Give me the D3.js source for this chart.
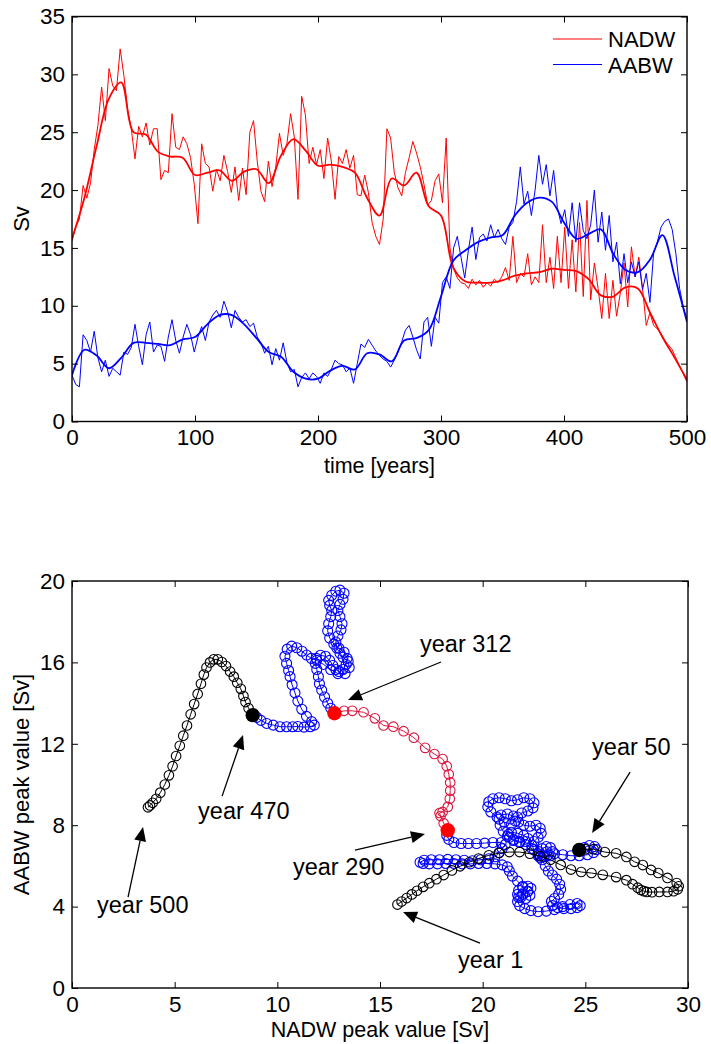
<!DOCTYPE html>
<html>
<head>
<meta charset="utf-8">
<script src="https://cdn.jsdelivr.net/npm/d3@7"></script>
<style>
  html, body { margin: 0; padding: 0; background: #fff; }
  svg { display: block; font-family: "Liberation Sans", Arial, Helvetica, sans-serif; }
</style>
</head>
<body>
<svg id="chart" width="711" height="1044"></svg>
<script>
// ---- top panel: yearly overturning (raw every 3 years, smoothed every 10 years) ----
const nadwRaw = [
  15.6, 16.8, 17.5, 20.4, 19.3, 20.6, 23.5, 25.6, 28.9, 26.0,
  30.5, 29.0, 28.6, 32.2, 29.9, 27.0, 25.3, 22.7, 25.5, 24.6,
  25.8, 23.9, 25.3, 25.3, 20.9, 21.7, 21.5, 26.6, 23.7, 23.5,
  24.6, 24.0, 22.8, 20.5, 17.1, 24.0, 22.3, 22.0, 19.9, 21.8,
  20.8, 23.0, 21.6, 19.8, 22.0, 19.1, 21.9, 19.6, 25.0, 26.0,
  22.5, 19.9, 19.0, 22.5, 20.3, 22.0, 24.9, 23.0, 24.0, 26.6,
  24.6, 19.2, 28.1, 26.5, 22.3, 23.7, 22.2, 23.5, 21.0, 24.5,
  22.5, 19.2, 22.9, 22.3, 23.5, 21.9, 23.0, 19.6, 19.5, 21.3,
  19.8, 17.2, 16.0, 15.3, 17.5, 25.3, 24.5, 21.5, 20.2, 19.5,
  21.5, 22.8, 24.2, 23.2, 22.0, 20.5, 18.7, 19.1, 20.8, 21.4,
  18.9, 24.5, 15.0, 13.2, 12.4, 12.0, 11.9, 11.5, 12.3, 11.8,
  12.2, 11.6, 12.0, 11.7, 12.3, 12.0, 12.5, 13.3, 12.2, 16.0,
  12.0, 12.8, 12.5, 14.5, 11.8, 12.5, 12.0, 17.0, 12.0, 14.2,
  11.5, 16.0, 12.0, 16.8, 11.5, 15.7, 11.2, 17.2, 10.8, 19.1,
  10.5, 13.7, 11.5, 8.9, 12.8, 8.9, 12.2, 9.1, 11.1, 13.7,
  9.9, 15.1, 12.5, 14.2, 11.5, 8.3, 9.4, 8.3, 8.0, 7.6,
  7.0, 6.6, 6.2, 5.5, 4.8, 4.1, 3.4
];
const aabwRaw = [
  4.0, 3.2, 3.0, 7.5, 7.0, 6.0, 7.8, 5.5, 4.3, 5.3,
  3.9, 4.6, 4.3, 4.0, 6.0, 5.8, 6.4, 8.4, 6.5, 4.9,
  7.5, 8.6, 6.0, 6.6, 6.5, 5.2, 7.3, 8.8, 7.0, 5.9,
  7.3, 8.4, 7.5, 6.0, 7.3, 8.2, 7.0, 8.6, 9.2, 9.6,
  9.0, 10.4, 9.5, 8.1, 9.6, 9.0, 8.6, 8.8, 8.2, 8.5,
  7.3, 6.8, 5.9, 6.5, 4.9, 6.3, 5.3, 6.8, 5.1, 4.3,
  4.5, 3.0, 3.8, 4.2, 3.7, 4.2, 3.9, 3.3, 4.2, 3.9,
  4.5, 5.3, 5.0, 4.9, 4.3, 4.6, 3.3, 5.0, 6.7, 6.4,
  7.1, 6.6, 6.1, 5.7, 5.4, 5.2, 4.7, 5.3, 6.0, 6.9,
  7.9, 8.3, 7.3, 6.2, 5.4, 8.6, 9.0, 6.5, 9.0, 8.5,
  12.0, 12.5, 11.5, 15.0, 16.0, 14.2, 12.4, 14.8, 16.8, 14.0,
  15.9, 16.2, 15.6, 17.0, 15.9, 16.6, 15.8, 15.3, 16.8, 17.2,
  19.0, 22.0, 18.8, 19.9, 17.8, 20.0, 23.0, 20.5, 22.2, 19.5,
  21.7, 18.5, 17.1, 18.3, 16.0, 18.9, 15.5, 18.9, 16.5, 15.8,
  17.0, 20.0, 15.5, 18.1, 14.8, 17.8, 13.8, 15.5, 11.9, 14.5,
  12.0, 13.8, 12.5, 13.8, 11.4, 12.8, 10.3, 14.6, 15.5, 16.8,
  17.3, 17.5, 16.6, 14.5, 11.5, 9.9, 8.8
];
const nadwSmooth = [
  15.8, 19.3, 23.8, 27.9, 29.3, 25.0, 24.8, 23.3, 22.9, 22.8,
  21.3, 21.5, 21.7, 20.8, 21.6, 21.8, 20.6, 23.0, 24.4, 23.4,
  22.1, 22.2, 22.0, 21.5, 19.3, 17.8, 21.0, 20.4, 21.5, 18.6,
  17.8, 13.3, 12.1, 12.0, 12.0, 12.2, 12.6, 12.8, 12.9, 13.2,
  13.1, 13.0, 12.3, 10.9, 10.8, 11.6, 11.5, 9.4, 7.3, 5.5,
  3.6
];
const aabwSmooth = [
  4.0, 6.2, 5.7, 4.6, 5.5, 6.8, 6.8, 6.7, 6.6, 7.1,
  7.3, 8.4, 9.2, 9.2, 8.4, 7.2, 6.0, 5.6, 4.3, 3.7,
  3.7, 4.4, 4.8, 4.5, 5.9, 5.8, 5.2, 7.0, 7.2, 7.9,
  10.8, 13.9, 14.8, 15.5, 15.9, 16.1, 17.8, 18.9, 19.35, 19.0,
  17.2, 15.8, 16.2, 16.6, 14.5, 13.1, 12.9, 14.0, 16.1, 12.5,
  8.6
];
const timeTicks = [0, 100, 200, 300, 400, 500];
const svTicks = [0, 5, 10, 15, 20, 25, 30, 35];
const seriesNames = ["NADW", "AABW"];

// ---- bottom panel: trajectory of the smoothed peaks, [NADW, AABW] in Sv ----
const blackEarly = [ // years 1..50
  [15.85,4.1],[16.05,4.25],[16.3,4.42],[16.55,4.6],[16.8,4.78],[17.1,4.97],[17.4,5.15],[17.75,5.35],[18.1,5.55],[18.5,5.78],
  [18.9,5.98],[19.35,6.18],[19.8,6.36],[20.3,6.52],[20.8,6.63],[21.3,6.68],[21.8,6.68],[22.3,6.6],[22.8,6.48],[23.3,6.3],
  [23.8,6.05],[24.3,5.82],[24.8,5.7],[25.3,5.65],[25.85,5.56],[26.5,5.45],[27.0,5.3],[27.3,5.1],[27.55,4.93],[27.7,4.82],
  [27.85,4.76],[28.0,4.72],[28.25,4.71],[28.6,4.72],[29.0,4.72],[29.3,4.76],[29.5,4.85],[29.55,5.0],[29.45,5.16],[29.0,5.41],
  [28.55,5.65],[28.2,5.8],[27.8,6.04],[27.4,6.2],[27.0,6.44],[26.5,6.62],[25.95,6.68],[25.4,6.82],[25.0,6.82],[24.7,6.78]
];
const blueMid = [ // years 50..290
  [24.7,6.78],[24.95,6.9],[25.2,7.0],[25.45,6.95],[25.55,6.8],[25.4,6.65],[25.1,6.55],[24.7,6.5],[24.3,6.5],[23.9,6.55],
  [23.5,6.6],[23.2,6.55],[22.95,6.45],[22.8,6.4],[22.7,6.5],[22.75,6.7],[22.9,6.85],[23.1,6.95],[23.3,6.9],[23.4,6.7],
  [23.3,6.5],[23.0,6.45],[22.7,6.6],[22.4,6.85],[22.1,7.05],[21.8,7.2],[21.5,7.3],[21.3,7.4],[21.25,7.55],[21.4,7.65],
  [21.7,7.6],[22.0,7.5],[22.2,7.35],[22.1,7.2],[21.8,7.15],[21.5,7.25],[21.2,7.45],[21.0,7.7],[20.85,8.0],[20.8,8.3],
  [20.9,8.5],[21.2,8.55],[21.5,8.45],[21.6,8.2],[21.4,8.05],[21.05,8.15],[20.7,8.4],[20.4,8.65],[20.25,8.9],[20.3,9.15],
  [20.5,9.3],[20.8,9.35],[21.1,9.3],[21.4,9.2],[21.7,9.25],[22.0,9.35],[22.3,9.3],[22.5,9.1],[22.45,8.85],[22.2,8.7],
  [21.9,8.6],[21.7,8.4],[21.75,8.15],[22.0,8.0],[22.3,7.95],[22.6,8.0],[22.8,7.85],[22.85,7.6],[22.7,7.4],[22.5,7.2],
  [22.4,7.0],[22.5,6.8],[22.7,6.6],[22.9,6.3],[23.05,6.0],[23.2,5.75],[23.4,5.55],[23.6,5.35],[23.75,5.1],[23.8,4.85],
  [23.7,4.6],[23.5,4.4],[23.35,4.25],[23.4,4.05],[23.65,3.95],[23.95,3.9],[24.3,3.9],[24.6,3.95],[24.75,4.05],[24.6,4.15],
  [24.25,4.1],[23.9,4.0],[23.5,3.85],[23.1,3.78],[22.7,3.75],[22.35,3.8],[22.05,3.9],[21.8,4.05],[21.7,4.25],[21.75,4.45],
  [21.95,4.6],[22.2,4.75],[22.35,4.9],[22.2,5.0],[21.95,4.95],[21.75,4.8],[21.7,4.6],[21.85,4.45],[22.1,4.4],[22.3,4.55],
  [22.2,4.75],[21.95,5.0],[21.7,5.25],[21.45,5.5],[21.3,5.75],[21.2,5.95],[20.95,6.05],[20.6,6.1],[20.2,6.12],[19.8,6.12],
  [19.4,6.1],[19.0,6.1],[18.6,6.12],[18.2,6.12],[17.8,6.1],[17.4,6.1],[17.1,6.12],[16.95,6.18],[17.15,6.28],[17.5,6.3],
  [17.9,6.3],[18.3,6.32],[18.7,6.3],[19.1,6.28],[19.5,6.25],[19.9,6.3],[20.3,6.35],[20.6,6.45],[20.8,6.65],[20.95,6.85],
  [21.1,7.05],[20.9,7.15],[20.5,7.15],[20.1,7.12],[19.7,7.1],[19.3,7.1],[18.95,7.1],[18.6,7.15],[18.35,7.3],[18.25,7.5],
  [18.3,7.75]
];
const redShift = [ // years 290..312
  [18.3,7.75],[18.1,8.1],[17.95,8.45],[17.9,8.6],[18.05,8.65],[18.3,8.9],[18.4,9.3],[18.42,9.7],[18.42,10.1],[18.35,10.5],
  [18.25,10.9],[18.05,11.25],[17.65,11.5],[17.2,11.8],[16.65,12.3],[16.15,12.62],[15.65,12.84],[15.17,12.9],[14.75,13.25],[14.2,13.55],
  [13.65,13.62],[13.25,13.62],[12.78,13.5]
];
const blueLate = [ // years 312..470
  [12.78,13.5],[12.6,13.75],[12.45,14.0],[12.3,14.3],[12.16,14.64],[12.05,14.95],[12.0,15.3],[11.92,15.65],[11.85,15.95],[11.9,16.2],
  [12.1,16.35],[12.35,16.3],[12.55,16.1],[12.7,15.85],[12.85,15.65],[13.0,15.55],[13.2,15.65],[13.35,15.9],[13.4,16.2],[13.25,16.5],
  [13.0,16.7],[12.75,16.9],[12.55,17.2],[12.45,17.55],[12.5,17.9],[12.6,18.25],[12.65,18.55],[12.55,18.8],[12.5,19.05],[12.65,19.3],
  [12.85,19.5],[13.05,19.55],[13.25,19.4],[13.2,19.1],[13.05,18.85],[12.95,18.55],[13.05,18.25],[13.15,17.9],[13.1,17.6],[12.95,17.3],
  [12.85,17.0],[12.9,16.7],[13.05,16.45],[13.2,16.25],[13.45,16.05],[13.5,15.75],[13.3,15.45],[12.95,15.45],[12.6,15.65],[12.25,15.9],
  [11.92,16.1],[11.65,16.2],[11.43,16.36],[11.2,16.55],[10.95,16.72],[10.7,16.8],[10.48,16.65],[10.37,16.3],[10.45,15.95],[10.55,15.6],
  [10.62,15.3],[10.72,14.9],[10.86,14.5],[11.0,14.1],[11.19,13.7],[11.42,13.35],[11.67,13.09],[11.8,12.92],[11.6,12.84],[11.3,12.82],
  [11.0,12.85],[10.75,12.84],[10.45,12.84],[10.13,12.84],[9.8,12.92],[9.48,13.0],[9.2,13.15],[9.0,13.3],[8.8,13.41]
];
const blackLate = [ // years 470..500
  [8.8,13.41],[8.6,13.75],[8.45,14.05],[8.35,14.35],[8.22,14.7],[8.05,15.0],[7.88,15.3],[7.7,15.55],[7.5,15.82],[7.3,16.02],
  [7.1,16.15],[6.9,16.15],[6.72,16.0],[6.55,15.75],[6.42,15.4],[6.28,14.95],[6.12,14.45],[5.95,13.95],[5.78,13.45],[5.6,12.9],
  [5.42,12.4],[5.25,11.9],[5.07,11.4],[4.9,10.9],[4.72,10.45],[4.52,10.0],[4.3,9.6],[4.1,9.3],[3.93,9.1],[3.8,8.97],
  [3.7,8.88]
];
const keyPoints = [
  { year: 50, at: [24.7, 6.78], fill: "#000" },
  { year: 290, at: [18.3, 7.75], fill: "#ff0000" },
  { year: 312, at: [12.78, 13.5], fill: "#ff0000" },
  { year: 470, at: [8.8, 13.41], fill: "#000" }
];
// annotation anchors in data units (Sv)
const notes = [
  { label: "year 312", text: [16.95, 16.5], tail: [17.97, 16.02], tip: [13.44, 14.15] },
  { label: "year 470", text: [6.14, 8.3], tail: [7.31, 9.43], tip: [8.33, 12.43] },
  { label: "year 500", text: [1.22, 3.69], tail: [2.73, 4.47], tip: [3.46, 7.91] },
  { label: "year 290", text: [10.76, 5.55], tail: [13.78, 6.78], tip: [17.19, 7.57] },
  { label: "year 1", text: [18.8, 0.98], tail: [19.87, 2.21], tip: [16.12, 3.73] },
  { label: "year 50", text: [25.33, 11.45], tail: [27.18, 10.61], tip: [25.33, 7.62] }
];
const nadwTicks = [0, 5, 10, 15, 20, 25, 30];
const aabwTicks = [0, 4, 8, 12, 16, 20];

const svg = d3.select("#chart");
const fontSize = 22.5;
const red = "#ff0000";
const blue = "#0000ff";
const crimson = "#dc143c";

function drawFrame(g, x, y, xTicks, yTicks) {
  const [x0, x1] = x.range();
  const [y0, y1] = y.range();

  g.append("g")
    .attr("transform", `translate(0,${y0})`)
    .call(d3.axisBottom(x).tickValues(xTicks).tickSizeInner(-6).tickSizeOuter(0).tickPadding(8))
    .call((a) => a.select(".domain").remove());
  g.append("g")
    .attr("transform", `translate(0,${y1})`)
    .call(d3.axisTop(x).tickValues(xTicks).tickSizeInner(-6).tickSizeOuter(0).tickFormat(""))
    .call((a) => a.select(".domain").remove());
  g.append("g")
    .attr("transform", `translate(${x0},0)`)
    .call(d3.axisLeft(y).tickValues(yTicks).tickSizeInner(-6).tickSizeOuter(0).tickPadding(7))
    .call((a) => a.select(".domain").remove());
  g.append("g")
    .attr("transform", `translate(${x1},0)`)
    .call(d3.axisRight(y).tickValues(yTicks).tickSizeInner(-6).tickSizeOuter(0).tickFormat(""))
    .call((a) => a.select(".domain").remove());

  g.selectAll(".tick line").attr("stroke", "#000").attr("stroke-width", 1);
  g.selectAll(".tick text")
    .attr("font-size", fontSize)
    .attr("font-family", "Liberation Sans, Arial, sans-serif")
    .attr("fill", "#000");

  g.append("rect")
    .attr("x", x0)
    .attr("y", y1)
    .attr("width", x1 - x0)
    .attr("height", y0 - y1)
    .attr("fill", "none")
    .attr("stroke", "#000")
    .attr("stroke-width", 1.4);
}

function clip(id, x, y) {
  const [x0, x1] = x.range();
  const [y0, y1] = y.range();
  svg.append("clipPath").attr("id", id)
    .append("rect")
    .attr("x", x0).attr("y", y1)
    .attr("width", x1 - x0).attr("height", y0 - y1);
}

// ===== top panel =====
const xTime = d3.scaleLinear().domain([0, 500]).range([72, 687]);
const ySv = d3.scaleLinear().domain([0, 35]).range([421.5, 16.5]);
clip("clip-top", xTime, ySv);

const topG = svg.append("g");
const topLines = topG.append("g").attr("clip-path", "url(#clip-top)");

function yearLine(values, curve) {
  const step = 500 / (values.length - 1);
  return d3.line()
    .x((d, i) => xTime(i * step))
    .y((d) => ySv(d))
    .curve(curve)(values);
}

[[nadwRaw, red], [aabwRaw, blue]].forEach(([values, color]) => {
  topLines.append("path")
    .attr("d", yearLine(values, d3.curveLinear))
    .attr("fill", "none")
    .attr("stroke", color)
    .attr("stroke-width", 1)
    .attr("stroke-linejoin", "round");
});
[[nadwSmooth, red], [aabwSmooth, blue]].forEach(([values, color]) => {
  topLines.append("path")
    .attr("d", yearLine(values, d3.curveCatmullRom.alpha(0.5)))
    .attr("fill", "none")
    .attr("stroke", color)
    .attr("stroke-width", 1.8);
});

drawFrame(topG, xTime, ySv, timeTicks, svTicks);

// legend
const legend = topG.append("g");
seriesNames.forEach((name, i) => {
  const ly = 39 + i * 25.5;
  legend.append("line")
    .attr("x1", 553).attr("x2", 602)
    .attr("y1", ly).attr("y2", ly)
    .attr("stroke", i === 0 ? red : blue)
    .attr("stroke-width", 1.2);
  legend.append("text")
    .attr("x", 608).attr("y", ly + 8)
    .attr("font-size", 22)
    .text(name);
});

topG.append("text")
  .attr("x", (xTime.range()[0] + xTime.range()[1]) / 2)
  .attr("y", 473)
  .attr("text-anchor", "middle")
  .attr("font-size", 21.5)
  .text("time [years]");
topG.append("text")
  .attr("transform", `translate(29,${(ySv.range()[0] + ySv.range()[1]) / 2}) rotate(-90)`)
  .attr("text-anchor", "middle")
  .attr("font-size", 22)
  .text("Sv");

// ===== bottom panel =====
const xN = d3.scaleLinear().domain([0, 30]).range([72, 688]);
const yA = d3.scaleLinear().domain([0, 20]).range([988, 581]);
clip("clip-bottom", xN, yA);

const botG = svg.append("g");
const marks = botG.append("g").attr("clip-path", "url(#clip-bottom)");
const trajLine = d3.line().x((d) => xN(d[0])).y((d) => yA(d[1]));

function drawSegment(points, color, r) {
  const g = marks.append("g");
  g.append("path")
    .attr("d", trajLine(points))
    .attr("fill", "none")
    .attr("stroke", color)
    .attr("stroke-width", 1);
  g.selectAll("circle")
    .data(points)
    .join("circle")
    .attr("cx", (d) => xN(d[0]))
    .attr("cy", (d) => yA(d[1]))
    .attr("r", r)
    .attr("fill", "none")
    .attr("stroke", color)
    .attr("stroke-width", 1.1);
}

drawSegment(blueMid, blue, 5);
drawSegment(blueLate, blue, 5);
drawSegment(blackEarly, "#000", 4.8);
drawSegment(blackLate, "#000", 4.8);
drawSegment(redShift, crimson, 4.8);

marks.selectAll("circle.key")
  .data(keyPoints)
  .join("circle")
  .attr("class", "key")
  .attr("cx", (d) => xN(d.at[0]))
  .attr("cy", (d) => yA(d.at[1]))
  .attr("r", 7.2)
  .attr("fill", (d) => d.fill);

drawFrame(botG, xN, yA, nadwTicks, aabwTicks);

// annotations with arrows
const notesG = botG.append("g");
notes.forEach((n) => {
  const tx = xN(n.tail[0]), ty = yA(n.tail[1]);
  const px = xN(n.tip[0]), py = yA(n.tip[1]);
  const ang = Math.atan2(py - ty, px - tx);
  const headLen = 14, headHalf = 6;
  const bx = px - headLen * Math.cos(ang), by = py - headLen * Math.sin(ang);
  notesG.append("line")
    .attr("x1", tx).attr("y1", ty)
    .attr("x2", bx).attr("y2", by)
    .attr("stroke", "#000")
    .attr("stroke-width", 1.3);
  const nx = -Math.sin(ang), ny = Math.cos(ang);
  notesG.append("path")
    .attr("d", `M${px},${py}L${bx + nx * headHalf},${by + ny * headHalf}L${bx - nx * headHalf},${by - ny * headHalf}Z`)
    .attr("fill", "#000");
  notesG.append("text")
    .attr("x", xN(n.text[0]))
    .attr("y", yA(n.text[1]))
    .attr("font-size", 23.5)
    .text(n.label);
});

botG.append("text")
  .attr("x", (xN.range()[0] + xN.range()[1]) / 2)
  .attr("y", 1037)
  .attr("text-anchor", "middle")
  .attr("font-size", 21.5)
  .text("NADW peak value [Sv]");
botG.append("text")
  .attr("transform", `translate(29,${(yA.range()[0] + yA.range()[1]) / 2}) rotate(-90)`)
  .attr("text-anchor", "middle")
  .attr("font-size", 22)
  .text("AABW peak value [Sv]");
</script>
</body>
</html>
